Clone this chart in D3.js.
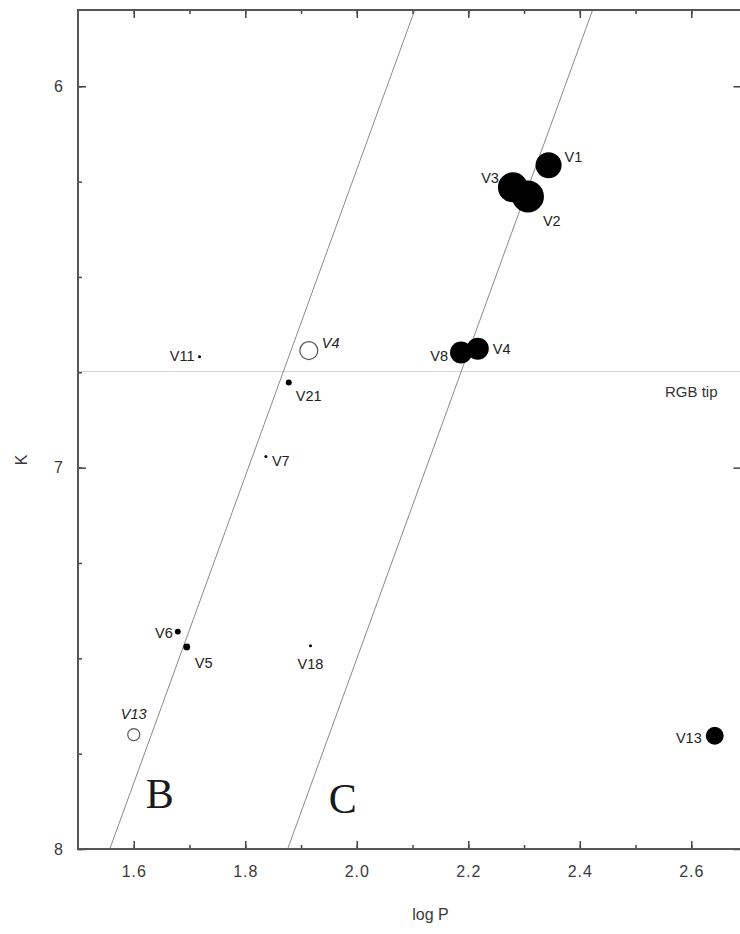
<!DOCTYPE html>
<html>
<head>
<meta charset="utf-8">
<script src="https://cdn.jsdelivr.net/npm/d3@7"></script>
<style>
  body { margin: 0; background: #fff; }
  svg { display: block; }
</style>
</head>
<body>
<svg id="plk" width="740" height="934" font-family="'Liberation Sans', Arial, sans-serif"></svg>
<script>
// stars: filled symbols (log P, K, amplitude)
var starNames = ["V1", "V3", "V2", "V4", "V8", "V11", "V21", "V7", "V6", "V5", "V18", "V13"];
var starLogP  = [2.344, 2.280, 2.307, 2.217, 2.187, 1.718, 1.878, 1.837, 1.679, 1.695, 1.917, 2.642];
var starK     = [6.207, 6.265, 6.289, 6.688, 6.698, 6.709, 6.777, 6.971, 7.430, 7.470, 7.467, 7.703];
var starAmp   = [1.72, 2.29, 2.60, 1.23, 1.23, 0.02, 0.09, 0.02, 0.09, 0.12, 0.02, 0.82];

// open symbols (alternative period)
var openNames = ["V4", "V13"];
var openLogP  = [1.914, 1.600];
var openK     = [6.693, 7.700];
var openAmp   = [0.82, 0.37];

// sequences B and C (end points in log P / K)
var seqNames = ["B", "C"];
var seqLogP  = [[1.557, 2.104], [1.876, 2.423]];
var seqK     = [[8.0, 5.8], [8.0, 5.8]];

var rgbTipK = 6.748;

var xTicks = [1.6, 1.8, 2.0, 2.2, 2.4, 2.6];
var yTicks = [6, 7, 8];

var svg = d3.select("#plk"),
    mLeft = 78, mRight = 741.5, mTop = 10, mBottom = 849;

var x = d3.scaleLinear().domain([1.5, 2.69]).range([mLeft, mRight]);
var y = d3.scaleLinear().domain([5.8, 8]).range([mTop, mBottom]);
var r = d3.scaleSqrt().domain([0, 2.6]).range([0, 16]);

// label placement per star [dx, dy, anchor]
var labelPos = {
  "V1": [16, -8, "start"], "V3": [-14, -9, "end"], "V2": [15, 25, "start"],
  "V4": [15, 0, "start"], "V8": [-13, 4, "end"], "V11": [-5, -1, "end"],
  "V21": [7, 13, "start"], "V7": [6, 4, "start"], "V6": [-5, 1, "end"],
  "V5": [8, 16, "start"], "V18": [0, 18, "middle"], "V13": [-13, 2, "end"]
};
var openLabelPos = { "V4": [13, -8, "start"], "V13": [0, -21, "middle"] };

var defs = svg.append("defs");
defs.append("clipPath").attr("id", "frame")
  .append("rect").attr("x", mLeft).attr("y", mTop)
  .attr("width", mRight - mLeft).attr("height", mBottom - mTop);

var plot = svg.append("g").attr("clip-path", "url(#frame)");

// RGB tip
plot.append("line")
  .attr("x1", mLeft).attr("x2", mRight)
  .attr("y1", y(rgbTipK)).attr("y2", y(rgbTipK))
  .attr("stroke", "#d4d4d4").attr("stroke-width", 1);
svg.append("text")
  .attr("x", 665).attr("y", y(rgbTipK) + 25)
  .attr("font-size", 15).attr("fill", "#333")
  .text("RGB tip");

// sequences
plot.selectAll("line.seq")
  .data(seqNames)
  .enter().append("line")
  .attr("class", "seq")
  .attr("x1", function(d, i) { return x(seqLogP[i][0]); })
  .attr("y1", function(d, i) { return y(seqK[i][0]); })
  .attr("x2", function(d, i) { return x(seqLogP[i][1]); })
  .attr("y2", function(d, i) { return y(seqK[i][1]); })
  .attr("stroke", "#8a8a8a").attr("stroke-width", 1);

svg.selectAll("text.seq")
  .data(seqNames)
  .enter().append("text")
  .attr("class", "seq")
  .attr("x", function(d, i) { return x(seqLogP[i][0]) + 36 + i * 5; })
  .attr("y", function(d, i) { return mBottom - 41 + i * 5; })
  .style("font-family", "'Liberation Serif', 'DejaVu Serif', serif")
  .attr("font-size", 42).attr("fill", "#1a1a1a")
  .text(function(d) { return d; });

// filled stars
plot.selectAll("circle.star")
  .data(starNames)
  .enter().append("circle")
  .attr("class", "star")
  .attr("cx", function(d, i) { return x(starLogP[i]); })
  .attr("cy", function(d, i) { return y(starK[i]); })
  .attr("r", function(d, i) { return Math.max(1.5, r(starAmp[i])); })
  .attr("fill", "#000");

svg.selectAll("text.star")
  .data(starNames)
  .enter().append("text")
  .attr("class", "star")
  .attr("x", function(d, i) { return x(starLogP[i]) + labelPos[d][0]; })
  .attr("y", function(d, i) { return y(starK[i]) + labelPos[d][1] + 5; })
  .attr("text-anchor", function(d) { return labelPos[d][2]; })
  .attr("font-size", 14.5).attr("fill", "#222")
  .text(function(d) { return d; });

// open stars
plot.selectAll("circle.open")
  .data(openNames)
  .enter().append("circle")
  .attr("class", "open")
  .attr("cx", function(d, i) { return x(openLogP[i]); })
  .attr("cy", function(d, i) { return y(openK[i]); })
  .attr("r", function(d, i) { return r(openAmp[i]); })
  .attr("fill", "none").attr("stroke", "#555").attr("stroke-width", 1.2);

svg.selectAll("text.open")
  .data(openNames)
  .enter().append("text")
  .attr("class", "open")
  .attr("x", function(d, i) { return x(openLogP[i]) + openLabelPos[d][0]; })
  .attr("y", function(d, i) { return y(openK[i]) + openLabelPos[d][1] + 5; })
  .attr("text-anchor", function(d) { return openLabelPos[d][2]; })
  .attr("font-size", 14.5).attr("font-style", "italic").attr("fill", "#222")
  .text(function(d) { return d; });

// axes: ticks inward on all four sides
var xMinor = d3.range(1.6, 2.69, 0.1).map(function(v) { return +v.toFixed(2); });
var yMinor = d3.range(5.75, 8.01, 0.25).filter(function(v) { return v > 5.8; });

svg.append("g").attr("transform", "translate(0," + mBottom + ")")
  .call(d3.axisBottom(x).tickValues(xMinor).tickSize(-4).tickFormat(""));
svg.append("g").attr("transform", "translate(0," + mBottom + ")")
  .attr("class", "xlab")
  .call(d3.axisBottom(x).tickValues(xTicks).tickSize(-8).tickPadding(17).tickFormat(d3.format(".1f")));
svg.append("g").attr("transform", "translate(0," + mTop + ")")
  .call(d3.axisTop(x).tickValues(xMinor).tickSize(-4).tickFormat(""));
svg.append("g").attr("transform", "translate(0," + mTop + ")")
  .call(d3.axisTop(x).tickValues(xTicks).tickSize(-8).tickFormat(""));

svg.append("g").attr("transform", "translate(" + mLeft + ",0)")
  .call(d3.axisLeft(y).tickValues(yMinor).tickSize(-4).tickFormat(""));
svg.append("g").attr("transform", "translate(" + mLeft + ",0)")
  .call(d3.axisLeft(y).tickValues(yTicks).tickSize(-8).tickPadding(15).tickFormat(d3.format("d")));
svg.append("g").attr("transform", "translate(" + mRight + ",0)")
  .call(d3.axisRight(y).tickValues(yTicks).tickSize(-8).tickFormat(""));

svg.selectAll(".domain").remove();
svg.selectAll(".tick line").attr("stroke", "#444").attr("stroke-width", 1.5);
svg.selectAll(".tick text").attr("font-size", 16).style("font-size", "16px").attr("fill", "#3a3a3a")
  .style("font-family", "'Liberation Sans', Arial, sans-serif");
svg.selectAll(".xlab .tick text").style("letter-spacing", "1px");

svg.append("rect")
  .attr("x", mLeft).attr("y", mTop)
  .attr("width", mRight - mLeft).attr("height", mBottom - mTop)
  .attr("fill", "none").attr("stroke", "#555").attr("stroke-width", 2);

// axis titles
svg.append("text")
  .attr("x", (x(2.1) + x(2.2)) / 2 - 10).attr("y", 920)
  .attr("text-anchor", "middle").attr("font-size", 16).attr("fill", "#3a3a3a")
  .text("log P");
svg.append("text")
  .attr("transform", "translate(27," + y(6.98) + ") rotate(-90)")
  .attr("text-anchor", "middle").attr("font-size", 16).attr("fill", "#3a3a3a")
  .text("K");
</script>
</body>
</html>
